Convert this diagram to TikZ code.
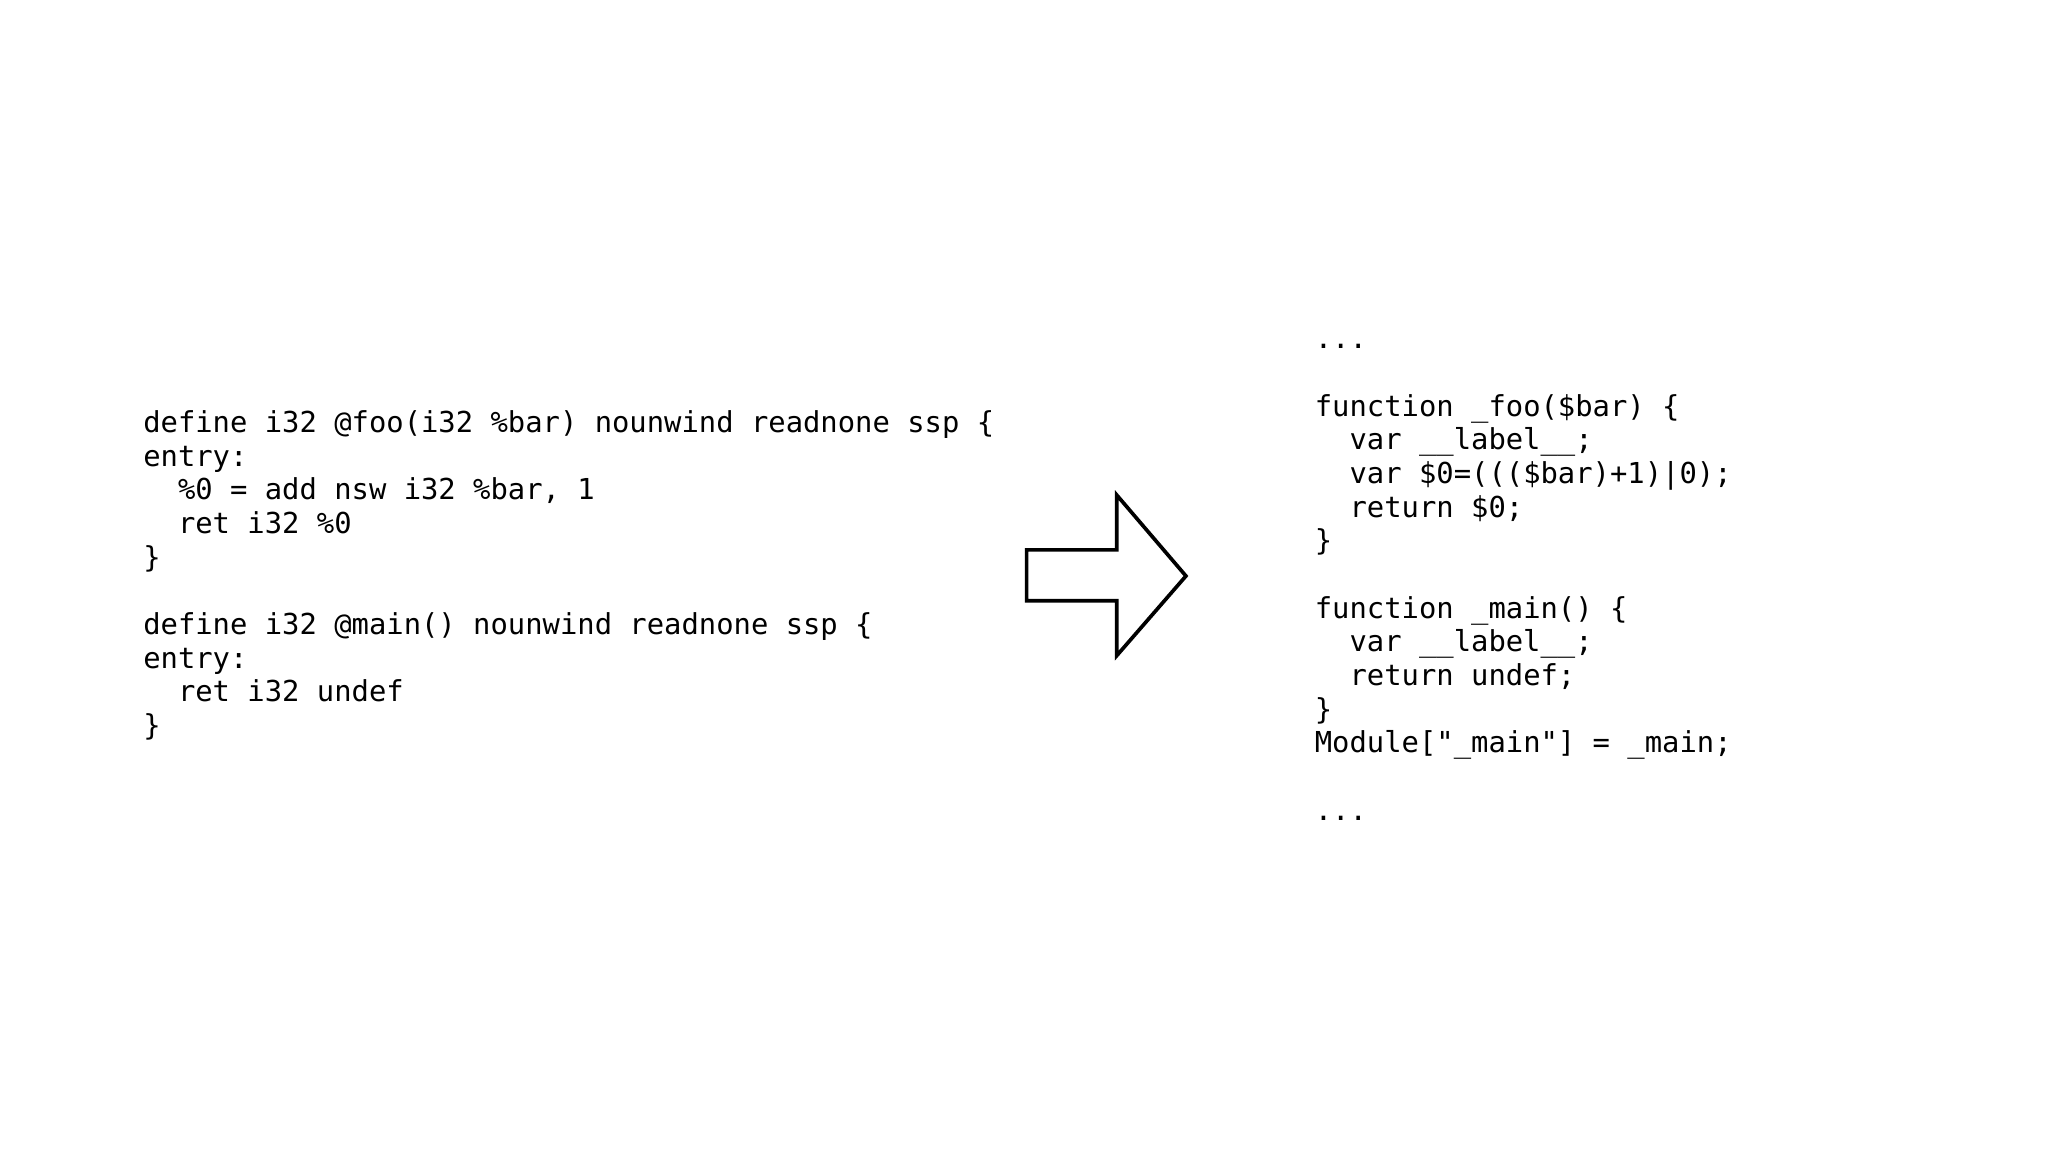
\documentclass[tikz,border=0pt]{standalone}
\usepackage{fontspec}
\setmonofont{DejaVu Sans Mono}
\usetikzlibrary{calc}
\tikzset{code/.style={inner sep=0pt, align=left, anchor=base west, font=\ttfamily\fontsize{6.28pt}{7.33pt}\selectfont}}
\tikzset{bigarrow/.style={draw, line width=0.8pt, line join=miter}}
\newcommand{\ind}{\hphantom{xx}}

\begin{document}
\begin{tikzpicture}[x=0.01cm, y=-0.01cm]
    \useasboundingbox (0,0) rectangle (1568,882);

    \node [code] (llvm) at (109,563) {define i32 @foo(i32 \%bar) nounwind readnone ssp \{\\
entry:\\
\ind\%0 = add nsw i32 \%bar, 1\\
\ind ret i32 \%0\\
\}\\
\mbox{}\\
define i32 @main() nounwind readnone ssp \{\\
entry:\\
\ind ret i32 undef\\
\}};

    \node [code] (js) at (1006,628) {...\\
\mbox{}\\
function \_foo(\$bar) \{\\
\ind var \_\_label\_\_;\\
\ind var \$0=(((\$bar)+1)|0);\\
\ind return \$0;\\
\}\\
\mbox{}\\
function \_main() \{\\
\ind var \_\_label\_\_;\\
\ind return undef;\\
\}\\
Module["\_main"] = \_main;\\
\mbox{}\\
...};

    \draw [bigarrow] (786,421) -- (855,421) -- (855,379) -- (908,441)
        -- (855,502) -- (855,460) -- (786,460) -- cycle;
\end{tikzpicture}
\end{document}
